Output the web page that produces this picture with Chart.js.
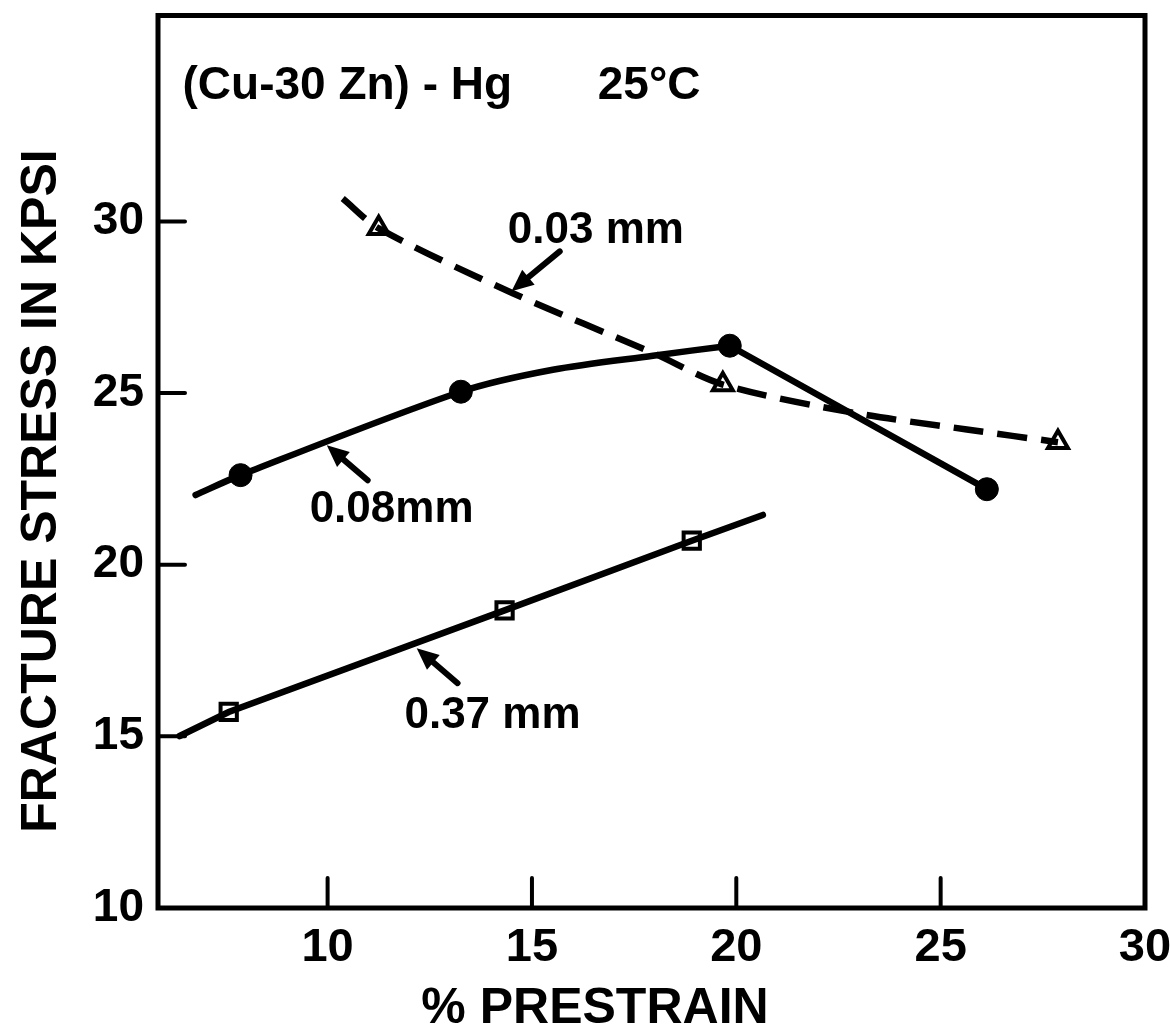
<!DOCTYPE html>
<html>
<head>
<meta charset="utf-8">
<title>(Cu-30 Zn) - Hg fracture stress</title>
<script src="https://cdn.jsdelivr.net/npm/chart.js@4.4.0/dist/chart.umd.min.js"></script>
<style>
  html, body { margin: 0; padding: 0; background: #fff; }
  #wrap { width: 1170px; height: 1036px; }
</style>
</head>
<body>
<div id="wrap"><canvas id="chart" width="1170" height="1036"></canvas></div>
<script>
// values
const xTicks = [10, 15, 20, 25, 30];
const yTicks = [10, 15, 20, 25, 30];

// 0.03 mm: open triangles, dashed curve
const pts003X = [11.25, 19.67, 27.87];
const pts003Y = [29.8, 25.25, 23.57];
const curve003X = [10.37, 11.25, 14.53, 17.96, 19.67, 22.85, 25.64, 27.87];
const curve003Y = [30.67, 29.8, 27.91, 26.17, 25.25, 24.43, 23.94, 23.57];

// 0.08 mm: filled circles
const pts008X = [7.87, 13.26, 19.84, 26.13];
const pts008Y = [22.61, 25.04, 26.38, 22.2];
const curve008X = [6.77, 7.87, 13.26, 15.51, 17.96, 19.84];
const curve008Y = [22.03, 22.61, 25.04, 25.68, 26.09, 26.38];
const drop008X = [19.84, 26.13];
const drop008Y = [26.38, 22.2];

// 0.37 mm: open squares, straight line
const pts037X = [7.58, 14.33, 18.91];
const pts037Y = [15.71, 18.67, 20.7];
const line037X = [6.38, 7.58, 14.33, 18.91, 20.65];
const line037Y = [15.01, 15.71, 18.67, 20.7, 21.45];

const xy = (xs, ys) => xs.map((x, i) => ({ x: x, y: ys[i] }));

const FONT = "'Liberation Sans', Arial, sans-serif";
Chart.defaults.font.family = FONT;
Chart.defaults.font.weight = 'bold';
Chart.defaults.color = '#000';

// curve labels and arrows, placed in data units
const notes = [
  { text: '0.03 mm', x: 14.41, y: 29.36, from: [15.68, 29.13], to: [14.5, 27.97] },
  { text: '0.08mm', x: 9.56, y: 21.25, from: [10.98, 22.46], to: [9.98, 23.48] },
  { text: '0.37 mm', x: 11.88, y: 15.25, from: [13.18, 16.55], to: [12.18, 17.57] }
];

const framePlugin = {
  id: 'frame',
  afterDatasetsDraw(chart) {
    const { ctx, chartArea: a, scales } = chart;
    ctx.save();
    ctx.strokeStyle = '#000';
    ctx.lineWidth = 5;
    ctx.strokeRect(a.left, a.top, a.right - a.left, a.bottom - a.top);
    // inward tick marks
    ctx.lineWidth = 4;
    ctx.lineCap = 'round';
    xTicks.slice(0, -1).forEach(v => {
      const px = scales.x.getPixelForValue(v);
      ctx.beginPath();
      ctx.moveTo(px, a.bottom);
      ctx.lineTo(px, a.bottom - 30);
      ctx.stroke();
    });
    yTicks.slice(1).forEach(v => {
      const py = scales.y.getPixelForValue(v);
      ctx.beginPath();
      ctx.moveTo(a.left, py);
      ctx.lineTo(a.left + 27, py);
      ctx.stroke();
    });
    ctx.restore();
  },
  afterDraw(chart) {
    const { ctx, scales } = chart;
    const X = v => scales.x.getPixelForValue(v);
    const Y = v => scales.y.getPixelForValue(v);
    ctx.save();
    ctx.fillStyle = '#000';
    ctx.strokeStyle = '#000';
    ctx.textBaseline = 'alphabetic';
    ctx.textAlign = 'left';

    ctx.font = 'bold 46px ' + FONT;
    ctx.fillText('(Cu-30 Zn) - Hg', X(6.45), Y(33.57));
    ctx.fillText('25°C', X(16.61), Y(33.57));

    ctx.font = 'bold 44px ' + FONT;
    notes.forEach(n => {
      ctx.fillText(n.text, X(n.x), Y(n.y));
      const x1 = X(n.from[0]), y1 = Y(n.from[1]);
      const x2 = X(n.to[0]), y2 = Y(n.to[1]);
      const ang = Math.atan2(y2 - y1, x2 - x1);
      const head = 24;
      ctx.lineWidth = 6;
      ctx.lineCap = 'round';
      ctx.beginPath();
      ctx.moveTo(x1, y1);
      ctx.lineTo(x2 - Math.cos(ang) * head * 0.6, y2 - Math.sin(ang) * head * 0.6);
      ctx.stroke();
      ctx.beginPath();
      ctx.moveTo(x2, y2);
      ctx.lineTo(x2 - head * Math.cos(ang - 0.42), y2 - head * Math.sin(ang - 0.42));
      ctx.lineTo(x2 - head * Math.cos(ang + 0.42), y2 - head * Math.sin(ang + 0.42));
      ctx.closePath();
      ctx.fill();
    });

    // axis titles
    ctx.font = 'bold 50px ' + FONT;
    ctx.textAlign = 'center';
    ctx.textBaseline = 'middle';
    ctx.fillText('% PRESTRAIN', 595, 1009);
    ctx.translate(42, 491);
    ctx.rotate(-Math.PI / 2);
    ctx.font = 'bold 50px ' + FONT;
    ctx.fillText('FRACTURE STRESS IN KPSI', 0, 0);
    ctx.restore();
  }
};

const lineStyle = {
  showLine: true,
  borderColor: '#000',
  borderWidth: 6.5,
  pointRadius: 0,
  pointHoverRadius: 0,
  fill: false,
  borderCapStyle: 'round'
};

new Chart(document.getElementById('chart'), {
  type: 'scatter',
  data: {
    datasets: [
      { ...lineStyle, label: '0.03 mm curve', data: xy(curve003X, curve003Y), tension: 0.3, borderDash: [30, 14], borderCapStyle: 'butt' },
      { ...lineStyle, label: '0.08 mm curve', data: xy(curve008X, curve008Y), tension: 0.3 },
      { ...lineStyle, label: '0.08 mm drop', data: xy(drop008X, drop008Y), tension: 0 },
      { ...lineStyle, label: '0.37 mm line', data: xy(line037X, line037Y), tension: 0 },
      {
        label: '0.03 mm', data: xy(pts003X, pts003Y), showLine: false,
        pointStyle: 'triangle', pointRadius: 11.5, pointBackgroundColor: '#fff',
        pointBorderColor: '#000', pointBorderWidth: 4
      },
      {
        label: '0.08 mm', data: xy(pts008X, pts008Y), showLine: false,
        pointStyle: 'circle', pointRadius: 11.5, pointBackgroundColor: '#000',
        pointBorderColor: '#000', pointBorderWidth: 1
      },
      {
        label: '0.37 mm', data: xy(pts037X, pts037Y), showLine: false,
        pointStyle: 'rect', pointRadius: 11.5, pointBackgroundColor: '#fff',
        pointBorderColor: '#000', pointBorderWidth: 4
      }
    ]
  },
  options: {
    responsive: false,
    animation: false,
    layout: { padding: { top: 10, right: 25, left: 0, bottom: 0 } },
    plugins: {
      legend: { display: false },
      tooltip: { enabled: false },
      title: { display: false }
    },
    scales: {
      x: {
        type: 'linear',
        min: 5.85,
        max: 30,
        afterBuildTicks: s => { s.ticks = xTicks.map(v => ({ value: v })); },
        afterFit: s => { s.height = 128; s.paddingLeft = 0; s.paddingRight = 0; },
        grid: { display: false, drawTicks: false },
        border: { display: false },
        ticks: { font: { size: 47, weight: 'bold' }, padding: 12, maxRotation: 0, color: '#000' }
      },
      y: {
        type: 'linear',
        min: 10,
        max: 36,
        afterBuildTicks: s => { s.ticks = yTicks.map(v => ({ value: v })); },
        afterFit: s => { s.width = 158; s.paddingTop = 0; s.paddingBottom = 0; },
        grid: { display: false, drawTicks: false },
        border: { display: false },
        ticks: { font: { size: 46, weight: 'bold' }, padding: 14, color: '#000' }
      }
    }
  },
  plugins: [framePlugin]
});
</script>
</body>
</html>
